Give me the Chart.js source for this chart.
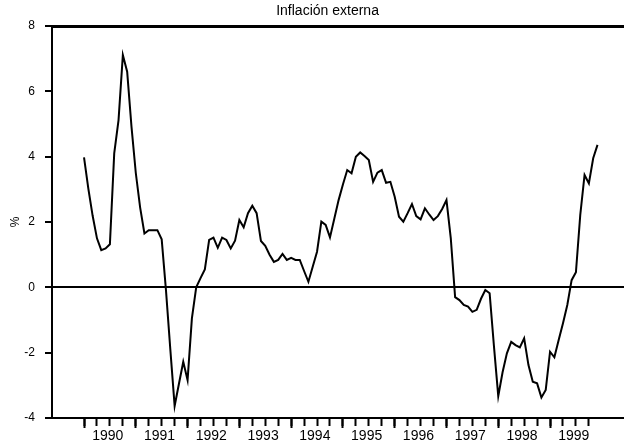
<!DOCTYPE html>
<html>
<head>
<meta charset="utf-8">
<script src="https://cdn.jsdelivr.net/npm/chart.js@4/dist/chart.umd.min.js"></script>
<style>
html,body{margin:0;padding:0;background:#fff;}
canvas{display:block;}
</style>
</head>
<body>
<canvas id="c" width="624" height="445"></canvas>
<script>
// Year labels (one per calendar year, monthly data Jan 1990 - Dec 1999)
const years = ['1990','1991','1992','1993','1994','1995','1996','1997','1998','1999'];
// External inflation, %, monthly
const inflation1990 = [3.98, 3.02, 2.19, 1.50, 1.14, 1.19, 1.32, 4.10, 5.12, 7.11, 6.60, 4.92];
const inflation1991 = [3.50, 2.45, 1.65, 1.75, 1.75, 1.75, 1.47, -0.10, -1.90, -3.63, -2.95, -2.28];
const inflation1992 = [-2.84, -0.95, 0.00, 0.28, 0.55, 1.45, 1.52, 1.21, 1.52, 1.45, 1.19, 1.43];
const inflation1993 = [2.06, 1.84, 2.27, 2.50, 2.27, 1.42, 1.27, 1.00, 0.78, 0.84, 1.02, 0.84];
const inflation1994 = [0.90, 0.84, 0.84, 0.50, 0.17, 0.63, 1.09, 2.01, 1.91, 1.53, 2.10, 2.67];
const inflation1995 = [3.15, 3.59, 3.49, 4.00, 4.13, 4.02, 3.90, 3.23, 3.51, 3.59, 3.20, 3.23];
const inflation1996 = [2.77, 2.16, 2.01, 2.27, 2.55, 2.18, 2.08, 2.42, 2.23, 2.06, 2.18, 2.40];
const inflation1997 = [2.67, 1.50, -0.30, -0.39, -0.54, -0.59, -0.75, -0.69, -0.35, -0.08, -0.18, -1.80];
const inflation1998 = [-3.33, -2.60, -2.02, -1.67, -1.77, -1.84, -1.56, -2.38, -2.89, -2.94, -3.37, -3.14];
const inflation1999 = [-1.97, -2.14, -1.61, -1.10, -0.54, 0.22, 0.46, 2.21, 3.44, 3.18, 3.95, 4.36];
const yTicks = [-4, -2, 0, 2, 4, 6, 8];

const inflation = [].concat(inflation1990, inflation1991, inflation1992, inflation1993, inflation1994,
  inflation1995, inflation1996, inflation1997, inflation1998, inflation1999);

const FONT = 'Liberation Sans, Arial, sans-serif';
const nMonths = years.length * 12;
const quarterTicks = [];
for (let m = 0; m < nMonths; m += 3) quarterTicks.push(m);
const yearTicks = years.map((y, i) => i * 12);
const labelTicks = years.map((y, i) => i * 12 + 5.5);

const xMin = -7.42, xMax = 125.14;
const yMin = yTicks[0], yMax = yTicks[yTicks.length - 1];

// Frame line along the top of the plot (at the y-axis maximum), placed through the y scale
const topFrame = {
  id: 'topFrame',
  afterDraw(chart) {
    const ys = chart.scales.y, area = chart.chartArea, ctx = chart.ctx;
    const yPix = Math.round(ys.getPixelForValue(yMax)) + 0.5;
    ctx.save();
    ctx.strokeStyle = '#000';
    ctx.lineWidth = 3;
    ctx.beginPath();
    ctx.moveTo(area.left, yPix);
    ctx.lineTo(area.right, yPix);
    ctx.stroke();
    ctx.restore();
  }
};

new Chart(document.getElementById('c'), {
  type: 'line',
  data: {
    datasets: [{
      data: inflation.map((v, i) => ({x: i, y: v})),
      borderColor: '#000', borderWidth: 2, pointRadius: 0, tension: 0, fill: false,
      xAxisID: 'x', yAxisID: 'y'
    }]
  },
  plugins: [topFrame],
  options: {
    responsive: false, animation: false, devicePixelRatio: 1,
    layout: {padding: {left: 0, right: 0, top: 0, bottom: 27}},
    plugins: {
      legend: {display: false}, tooltip: {enabled: false},
      title: {display: true, text: '        Inflación externa', color: '#000',
        font: {family: FONT, size: 14, weight: 'normal'}, padding: {top: 3, bottom: 6.2}}
    },
    scales: {
      x: {
        type: 'linear', min: xMin, max: xMax, position: {y: yMin},
        afterBuildTicks: s => { s.ticks = quarterTicks.map(v => ({value: v})); },
        border: {display: true, color: '#000', width: 2},
        grid: {drawOnChartArea: false, drawTicks: true, tickLength: 7, tickColor: '#000', tickWidth: 2},
        ticks: {display: false}
      },
      xYears: {
        type: 'linear', min: xMin, max: xMax, position: {y: yMin},
        afterBuildTicks: s => { s.ticks = yearTicks.map(v => ({value: v})); },
        border: {display: false},
        grid: {drawOnChartArea: false, drawTicks: true, tickLength: 10, tickColor: '#000', tickWidth: 2},
        ticks: {display: false}
      },
      xLabels: {
        type: 'linear', min: xMin, max: xMax, position: {y: yMin},
        afterBuildTicks: s => { s.ticks = labelTicks.map(v => ({value: v})); },
        border: {display: false},
        grid: {drawOnChartArea: false, drawTicks: false},
        ticks: {display: true, padding: 10, color: '#000', maxRotation: 0, autoSkip: false,
          font: {family: FONT, size: 14}, callback: (v, i) => years[i]}
      },
      y: {
        type: 'linear', position: 'left', min: yMin, max: yMax,
        afterBuildTicks: s => { s.ticks = yTicks.map(v => ({value: v})); },
        afterFit: s => { s.width = 52; },
        border: {display: true, color: '#000', width: 2},
        grid: {color: c => (c.tick && (c.tick.value === 0 || c.tick.value === yMax)) ? '#000' : 'rgba(0,0,0,0)', lineWidth: 2,
          drawTicks: true, tickLength: 7, tickColor: '#000', tickWidth: 2},
        ticks: {color: '#000', padding: 10, font: {family: FONT, size: 12}, callback: v => String(v)},
        title: {display: true, text: '%', color: '#000', font: {family: FONT, size: 12}, padding: {top: 8, bottom: 0}}
      }
    }
  }
});
</script>
</body>
</html>
